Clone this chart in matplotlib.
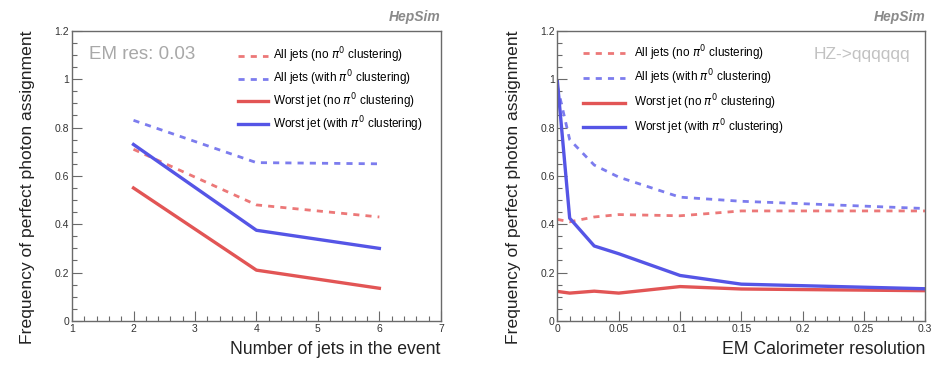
import matplotlib
matplotlib.use("Agg")
import matplotlib.pyplot as plt
from matplotlib.ticker import MultipleLocator, FuncFormatter

plt.rcParams['font.family'] = ['Liberation Sans', 'DejaVu Sans']

# === Data: perfect photon assignment frequency
njets = [2, 4, 6]
nj_all_no = [0.71, 0.48, 0.43]
nj_all_with = [0.83, 0.655, 0.65]
nj_worst_no = [0.55, 0.21, 0.135]
nj_worst_with = [0.73, 0.375, 0.30]

em_res = [0.0, 0.01, 0.03, 0.05, 0.1, 0.15, 0.3]
em_all_no = [0.42, 0.41, 0.43, 0.44, 0.435, 0.455, 0.455]
em_all_with = [0.97, 0.75, 0.645, 0.595, 0.512, 0.495, 0.465]
em_worst_no = [0.122, 0.115, 0.123, 0.115, 0.142, 0.132, 0.125]
em_worst_with = [0.99, 0.425, 0.31, 0.278, 0.188, 0.152, 0.133]

legend_labels = [
    r"All jets (no $\pi^0$ clustering)",
    r"All jets (with $\pi^0$ clustering)",
    r"Worst jet (no $\pi^0$ clustering)",
    r"Worst jet (with $\pi^0$ clustering)",
]

RED = "#e25555"
BLUE = "#5555e6"
RED_D = "#ec7878"
BLUE_D = "#7c7cee"
FRAME = "#6a6a6a"
TXT = "#333333"


def root_fmt(v, pos):
    return f"{v:.2f}".rstrip("0").rstrip(".")


def style_axes(ax, xmaj, xmin):
    ax.set_ylim(0, 1.2)
    ax.yaxis.set_major_locator(MultipleLocator(0.2))
    ax.yaxis.set_minor_locator(MultipleLocator(0.05))
    ax.xaxis.set_major_locator(MultipleLocator(xmaj))
    ax.xaxis.set_minor_locator(MultipleLocator(xmin))
    ax.xaxis.set_major_formatter(FuncFormatter(root_fmt))
    ax.yaxis.set_major_formatter(FuncFormatter(root_fmt))
    ax.tick_params(which='both', direction='in', colors=FRAME, labelcolor=TXT,
                   labelsize=7.5, width=0.8, top=False, right=False)
    ax.tick_params(which='major', length=7, pad=2)
    ax.tick_params(which='minor', length=3.5)
    for sp in ax.spines.values():
        sp.set_color(FRAME)
        sp.set_linewidth(1.0)


def draw(ax, x, all_no, all_with, worst_no, worst_with):
    ax.plot(x, all_no, color=RED_D, lw=2.0, ls=(0, (2.2, 2.2)), label=legend_labels[0])
    ax.plot(x, all_with, color=BLUE_D, lw=2.0, ls=(0, (2.2, 2.2)), label=legend_labels[1])
    ax.plot(x, worst_no, color=RED, lw=2.4, label=legend_labels[2])
    ax.plot(x, worst_with, color=BLUE, lw=2.4, label=legend_labels[3])


fig = plt.figure(figsize=(9.48, 3.68), dpi=100)
ax1 = fig.add_axes([0.076, 0.128, 0.389, 0.788])
ax2 = fig.add_axes([0.588, 0.128, 0.388, 0.788])

# Left: number of jets
draw(ax1, njets, nj_all_no, nj_all_with, nj_worst_no, nj_worst_with)
ax1.set_xlim(1, 7)
style_axes(ax1, 1, 0.2)
ax1.legend(loc='upper left', bbox_to_anchor=(0.42, 0.985), frameon=False,
           fontsize=8.5, handlelength=2.6, labelspacing=0.28, handletextpad=0.4)
ax1.text(0.045, 0.92, "EM res: 0.03", transform=ax1.transAxes, fontsize=13.5,
         color="#a8a8a8", va='center', ha='left')
ax1.set_xlabel("Number of jets in the event", fontsize=12.7, loc='right', color="#222222", labelpad=5)

# Right: EM calorimeter resolution
draw(ax2, em_res, em_all_no, em_all_with, em_worst_no, em_worst_with)
ax2.set_xlim(0, 0.3)
style_axes(ax2, 0.05, 0.01)
ax2.legend(loc='upper left', bbox_to_anchor=(0.04, 0.995), frameon=False,
           fontsize=8.5, handlelength=3.6, labelspacing=0.45, handletextpad=0.7)
ax2.text(0.96, 0.92, "HZ->qqqqqq", transform=ax2.transAxes, fontsize=12.5,
         color="#c2c2c2", va='center', ha='right')
ax2.set_xlabel("EM Calorimeter resolution", fontsize=12.7, loc='right', color="#222222", labelpad=5)

for ax in (ax1, ax2):
    ax.set_ylabel("Frequency of perfect photon assignment", fontsize=12.6, loc='top',
                  color="#222222", labelpad=14)
    ax.text(1.0, 1.025, "HepSim", transform=ax.transAxes, fontsize=10, color="#8a8a8a",
            style='italic', fontweight='bold', ha='right', va='bottom')

fig.savefig("out.png", dpi=100)
plt.close(fig)
